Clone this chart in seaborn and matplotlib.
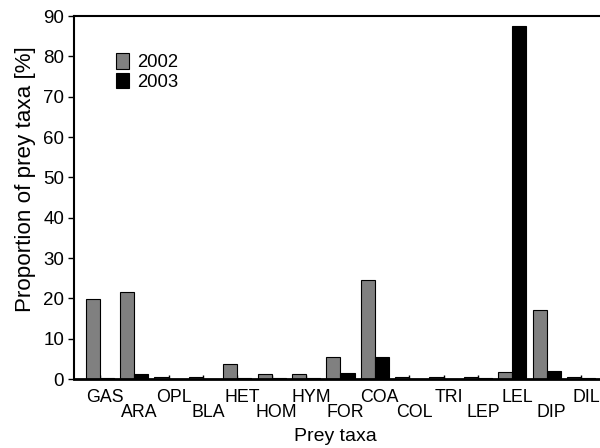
import matplotlib
matplotlib.use("Agg")
import matplotlib.pyplot as plt
import seaborn as sns
import pandas as pd
from matplotlib.patches import Patch
from matplotlib.transforms import ScaledTranslation

categories = ["GAS", "ARA", "OPL", "BLA", "HET", "HOM", "HYM", "FOR",
              "COA", "COL", "TRI", "LEP", "LEL", "DIP", "DIL"]
vals_2002 = [19.8, 21.5, 0.5, 0.5, 3.6, 1.3, 1.3, 5.5, 24.5, 0.5, 0.5, 0.5, 1.7, 17.0, 0.5]
vals_2003 = [0.3, 1.2, 0.1, 0.1, 0.3, 0.3, 0.3, 1.5, 5.5, 0.1, 0.1, 0.3, 87.5, 2.1, 0.3]
years = ["2002", "2003"]
colors = {"2002": "#808080", "2003": "#000000"}

df = pd.DataFrame({
    "taxon": categories * 2,
    "year": [years[0]] * len(categories) + [years[1]] * len(categories),
    "value": vals_2002 + vals_2003,
})

sns.set_style("ticks")
plt.rcParams["font.family"] = ["Liberation Sans", "DejaVu Sans"]
plt.rcParams.update({"text.color": "black", "axes.labelcolor": "black",
                     "xtick.color": "black", "ytick.color": "black",
                     "axes.edgecolor": "black"})

fig = plt.figure(figsize=(6, 4.48), dpi=100)
ax = fig.add_axes([0.123, 0.154, 0.877, 0.810])

sns.barplot(data=df, x="taxon", y="value", hue="year", order=categories,
            hue_order=years, palette=colors, width=0.82, gap=0,
            edgecolor="black", linewidth=0.8, ax=ax, legend=False)

ax.set_xlim(-0.757, 14.55)
ax.set_ylim(0, 90)
ax.set_yticks(range(0, 91, 10))
ax.tick_params(axis="y", labelsize=13.5, length=4, width=1, direction="out", pad=3)

even = list(range(0, len(categories), 2))
odd = list(range(1, len(categories), 2))
ax.set_xticks(even, labels=[categories[i] for i in even])
ax.set_xticks(odd, labels=[categories[i] for i in odd], minor=True)
ax.tick_params(axis="x", which="major", labelsize=12.8, length=3, width=1, direction="in", pad=7.5)
ax.tick_params(axis="x", which="minor", labelsize=12.8, length=3, width=1, direction="in", pad=18)
shift = ScaledTranslation(5 / 100, 0, fig.dpi_scale_trans)
for lab in ax.get_xticklabels(which="both"):
    lab.set_transform(lab.get_transform() + shift)

ax.set_xlabel("Prey taxa", fontsize=14)
ax.xaxis.set_label_coords(0.498, -0.135)
ax.set_ylabel("Proportion of prey taxa [%]", fontsize=16.1)
ax.yaxis.set_label_coords(-0.072, 0.551)

for s in ["left", "top", "bottom"]:
    ax.spines[s].set_visible(True)
    ax.spines[s].set_color("black")
ax.spines["right"].set_visible(False)
ax.spines["top"].set_linewidth(1.5)
ax.spines["left"].set_linewidth(1.5)
ax.spines["bottom"].set_linewidth(2)

handles = [Patch(facecolor=colors[y], edgecolor="black", linewidth=0.8, label=y) for y in years]
ax.legend(handles=handles, loc="upper left", bbox_to_anchor=(0.067, 0.918), frameon=False,
          fontsize=13.3, handlelength=0.7, handleheight=0.9, handletextpad=0.4,
          labelspacing=0.1, borderaxespad=0)

fig.savefig("out.png", dpi=100)
